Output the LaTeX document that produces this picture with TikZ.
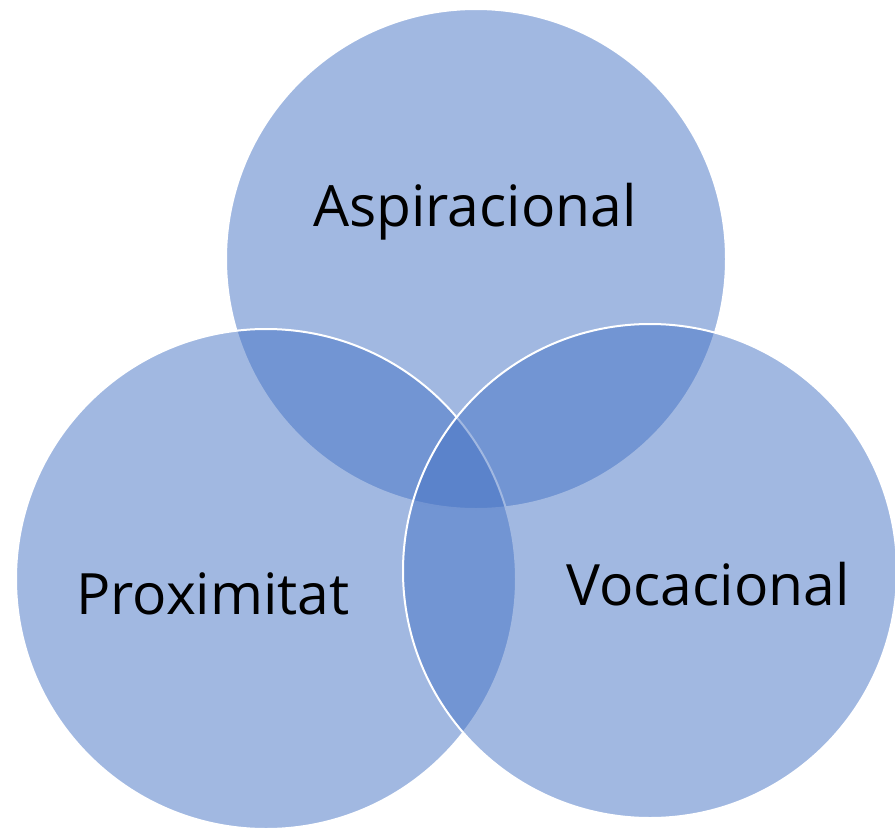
\documentclass[tikz,border=0pt]{standalone}
\usepackage{fontspec}
\setmainfont{Open Sans}
\usepackage{tikz}

\definecolor{accentblue}{HTML}{4472C4}
\tikzset{
    ring/.style={fill=accentblue, fill opacity=0.5, draw=white, line width=2pt},
    ringtext/.style={anchor=base, inner sep=0pt, font=\fontsize{57}{60}\selectfont}
}

\begin{document}
\begin{tikzpicture}[x=1pt, y=-1pt]
            \useasboundingbox (0, 0) rectangle (895, 830);
            \draw[ring] (476, 259) circle (250);
            \draw[ring] (266, 579) circle (250);
            \draw[ring] (650, 571) circle (247);

            \node[ringtext] (asp) at (475, 226) {Aspiracional};
            \node[ringtext] (prox) at (213, 614) {Proximitat};
            \node[ringtext] (voc) at (708, 605) {Vocacional};
        \end{tikzpicture}
\end{document}
